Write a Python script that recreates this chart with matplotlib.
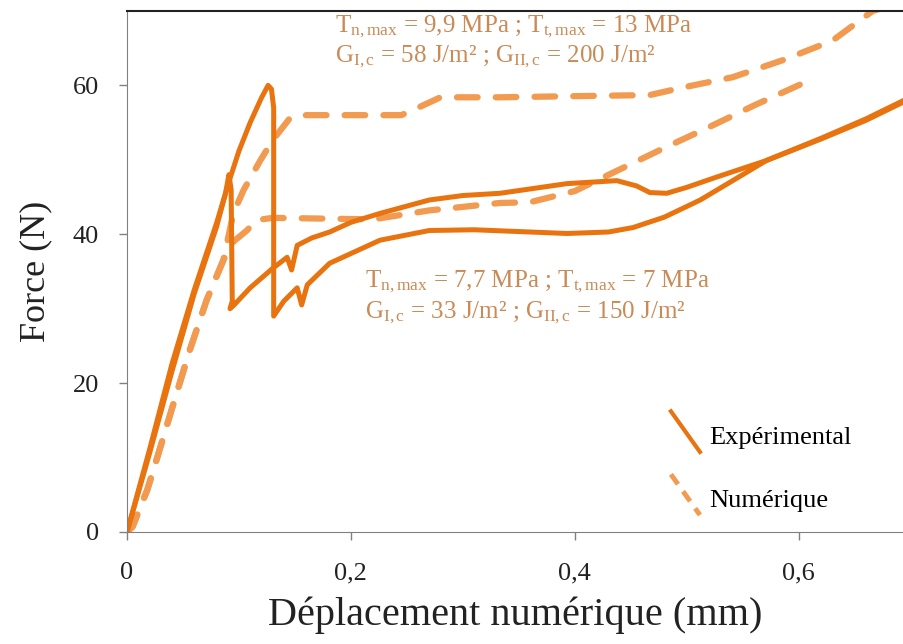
import matplotlib
matplotlib.use('Agg')
import matplotlib.pyplot as plt
from matplotlib.legend_handler import HandlerLine2D
from matplotlib.lines import Line2D

plt.rcParams['font.family'] = ['Liberation Serif', 'DejaVu Serif']
plt.rcParams['mathtext.fontset'] = 'custom'
plt.rcParams['mathtext.rm'] = 'Liberation Serif'
plt.rcParams['mathtext.it'] = 'Liberation Serif:italic'

"""Data (read off the picture)"""
# experimental curve with the 60 N peak
exp_a_x = [0, 0.02, 0.04, 0.06, 0.08, 0.092, 0.10, 0.11, 0.12, 0.126, 0.129, 0.131,
           0.131, 0.140, 0.152, 0.156, 0.161, 0.181, 0.226, 0.27, 0.31, 0.36, 0.393,
           0.43, 0.452, 0.48, 0.512, 0.541, 0.571, 0.62, 0.66, 0.694]
exp_a_y = [0, 11, 22.5, 32.5, 41.5, 47.5, 51.2, 55, 58.3, 60, 59.5, 57,
           29, 31, 32.8, 30.5, 33.2, 36.1, 39.2, 40.5, 40.6, 40.3, 40.1,
           40.3, 40.9, 42.3, 44.6, 47.2, 49.9, 52.8, 55.3, 57.8]
# experimental curve with the 48 N peak
exp_b_x = [0, 0.02, 0.04, 0.06, 0.08, 0.088, 0.091, 0.093, 0.094, 0.092, 0.095, 0.11,
           0.13, 0.143, 0.147, 0.152, 0.165, 0.181, 0.2, 0.226, 0.27, 0.30, 0.333,
           0.393, 0.4375, 0.455, 0.467, 0.482, 0.50, 0.527, 0.571, 0.62, 0.66, 0.694]
exp_b_y = [0, 10.5, 21.5, 32, 41, 45.5, 48, 46, 31, 30, 30.4, 32.8,
           35.4, 36.9, 35.2, 38.5, 39.5, 40.3, 41.6, 42.8, 44.6, 45.2, 45.5,
           46.8, 47.2, 46.5, 45.6, 45.5, 46.3, 47.7, 49.9, 52.9, 55.5, 58]
# numerical, Tn,max = 9,9 MPa
num_1_x = [0, 0.005, 0.012, 0.018, 0.027, 0.04, 0.056, 0.071, 0.086, 0.095, 0.104,
           0.119, 0.13, 0.146, 0.16, 0.245, 0.26, 0.28, 0.333, 0.467, 0.496, 0.541,
           0.586, 0.63, 0.666, 0.70]
num_1_y = [0, 0.7, 3.4, 5.6, 10, 16.5, 24.4, 31.1, 36.5, 42.8, 45.9,
           49.9, 52.6, 55.7, 56, 56, 57, 58.4, 58.4, 58.7, 59.7, 61.1,
           63.4, 66, 70, 71.5]
# numerical, Tn,max = 7,7 MPa
num_2_x = [0, 0.005, 0.012, 0.018, 0.027, 0.04, 0.056, 0.071, 0.086, 0.095, 0.107,
           0.116, 0.13, 0.22, 0.27, 0.333, 0.36, 0.40, 0.44, 0.48, 0.52, 0.56, 0.604]
num_2_y = [0, 0.7, 3.4, 5.6, 10, 16.5, 24.4, 31.1, 36.5, 39, 40.5,
           41.9, 42.2, 42, 43.2, 44.2, 44.3, 45.8, 48.7, 51.6, 54.4, 57.3, 60.3]

x_ticks = [0, 0.2, 0.4, 0.6]
x_tick_labels = ['0', '0,2', '0,4', '0,6']
y_ticks = [0, 20, 40, 60]
y_tick_labels = ['0', '20', '40', '60']

solid_color = '#E8730F'
dash_color = '#F29A4F'
text_color = '#C98A55'


class HandlerDiag(HandlerLine2D):
    # legend keys drawn as slanted strokes
    def create_artists(self, legend, orig_handle, xdescent, ydescent,
                       width, height, fontsize, trans):
        line = Line2D([0, width], [height * 1.75, -height * 0.45])
        self.update_prop(line, orig_handle, legend)
        line.set_transform(trans)
        return [line]


fig = plt.figure(figsize=(9.04, 6.44), dpi=100)
ax = fig.add_axes([0.1405, 0.174, 0.8595, 0.809])

ax.plot(num_1_x, num_1_y, color=dash_color, lw=4.5, dashes=(3.3, 2.9),
        dash_capstyle='round')
ax.plot(num_2_x, num_2_y, color=dash_color, lw=4.5, dashes=(3.3, 2.9),
        dash_capstyle='round')
ax.plot(exp_a_x, exp_a_y, color=solid_color, lw=3.6, solid_joinstyle='round')
ax.plot(exp_b_x, exp_b_y, color=solid_color, lw=3.6, solid_joinstyle='round')

ann_size = 18
ax.text(0.186, 67.9, r'T$_{\mathrm{n,max}}$ = 9,9 MPa ; T$_{\mathrm{t,max}}$ = 13 MPa',
        color=text_color, fontsize=ann_size, va='center', ha='left')
ax.text(0.186, 63.9, r'G$_{\mathrm{I,c}}$ = 58 J/m² ; G$_{\mathrm{II,c}}$ = 200 J/m²',
        color=text_color, fontsize=ann_size, va='center', ha='left')
ax.text(0.2125, 33.6, r'T$_{\mathrm{n,max}}$ = 7,7 MPa ; T$_{\mathrm{t,max}}$ = 7 MPa',
        color=text_color, fontsize=ann_size, va='center', ha='left')
ax.text(0.2125, 29.5, r'G$_{\mathrm{I,c}}$ = 33 J/m² ; G$_{\mathrm{II,c}}$ = 150 J/m²',
        color=text_color, fontsize=ann_size, va='center', ha='left')

handles = [Line2D([], [], color=solid_color, lw=3),
           Line2D([], [], color=dash_color, lw=3.5, dashes=(2.5, 1.8))]
leg = ax.legend(handles, ['Expérimental', 'Numérique'],
                handler_map={Line2D: HandlerDiag()},
                loc='upper left', bbox_to_anchor=(0.70, 0.205), frameon=False,
                fontsize=19, handlelength=1.1, handletextpad=0.35,
                labelspacing=1.5, borderpad=0, borderaxespad=0)

ax.set_xlim(0, 0.694)
ax.set_ylim(0, 70)
ax.set_xticks(x_ticks)
ax.set_xticklabels(x_tick_labels)
ax.set_yticks(y_ticks)
ax.set_yticklabels(y_tick_labels)
ax.tick_params(direction='out', length=6, width=1, color='#808080',
               labelsize=19, labelcolor='#222222')
ax.tick_params(axis='x', pad=16)
ax.tick_params(axis='y', pad=14)
ax.spines['left'].set_color('#808080')
ax.spines['bottom'].set_color('#808080')
ax.spines['top'].set_color('#222222')
ax.spines['top'].set_linewidth(1.5)
ax.spines['right'].set_visible(False)

ax.set_xlabel('Déplacement numérique (mm)', fontsize=29, color='#222222', labelpad=9)
ax.set_ylabel('Force (N)', fontsize=26, color='#222222', labelpad=15)

fig.savefig('out.png', dpi=100)
